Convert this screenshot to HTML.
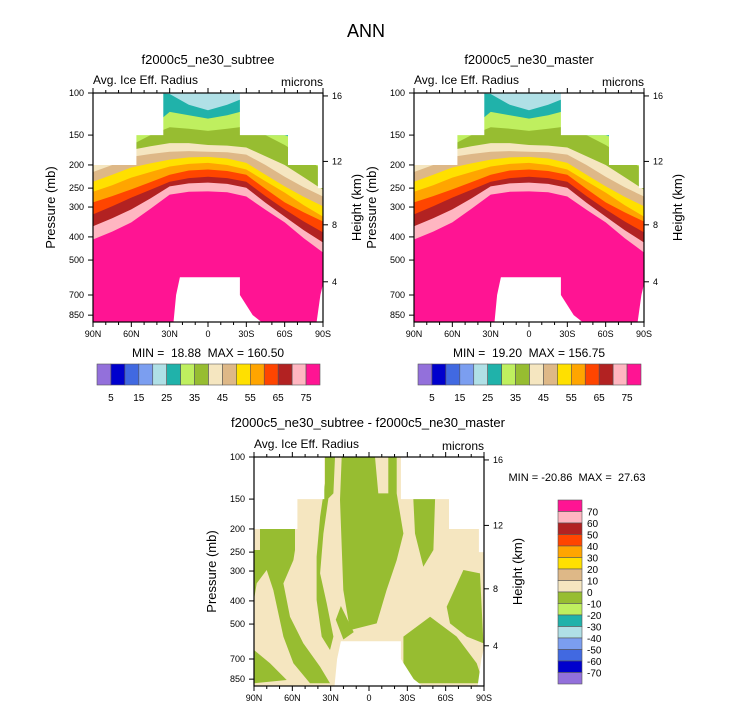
<!DOCTYPE html>
<html><head><meta charset="utf-8">
<style>
html,body{margin:0;padding:0;background:#fff;}
svg{display:block;font-family:"Liberation Sans",sans-serif;}
</style></head>
<body>
<svg id="c" width="733" height="711" viewBox="0 0 733 711" xmlns="http://www.w3.org/2000/svg">
<text x="366" y="37" font-size="18" text-anchor="middle">ANN</text>
</svg>
<script>
var lats=[90,75,60,45,30,15,0,-15,-30,-45,-60,-75,-90];
var levelNames=["lightblue","teal","lightgreen","olive","wheat","tan","gold","orange","orangered","firebrick","pink","deeppink"];
var levelColors=["#b0e0e6","#20b2aa","#bfef5f","#97bd31","#f5e6c0","#deb887","#ffe000","#ffa500","#ff4500","#b22222","#ffb6c1","#ff1493"];
var tealTop=[100,100,100,100,101,112,118,112,104,100,100,100,100];
var lgreenTop=[150,150,150,140,120,124,128,124,118,150,150,160,170];
var oliveTop=[200,190,165,150,139,141,144,141,138,150,165,185,210];
var wheatTop=[200,188,173,167,162,162,165,166,169,184,200,225,254];
var tanTop=[214,200,185,180,176,175,176,177,181,200,224,248,271];
var goldTop=[235,220,205,197,190,186,185,188,196,220,246,272,298];
var orangeTop=[259,243,226,214,203,198,196,200,209,234,261,295,329];
var oredTop=[287,270,253,236,220,211,209,212,220,252,287,316,345];
var fbrickTop=[322,298,274,254,235,227,224,227,235,270,307,345,383];
var pinkTop=[361,334,307,276,246,239,237,240,249,288,329,375,422];
var dpinkTop=[410,380,348,305,266,259,258,260,271,308,348,405,465];
var pTicks=[100,150,200,250,300,400,500,700,850];
var hTicks=[4,8,12,16];
var latTicks=[90,60,30,0,-30,-60,-90];
var latLabels=["90N","60N","30N","0","30S","60S","90S"];
var cbColors=["#9370db","#0000cd","#4169e1","#7b9ef0","#b0e0e6","#20b2aa","#bfef5f","#97bd31","#f5e6c0","#deb887","#ffe000","#ffa500","#ff4500","#b22222","#ffb6c1","#ff1493"];
var cbLabels=["5","15","25","35","45","55","65","75"];
var diffLabels=["70","60","50","40","30","20","10","0","-10","-20","-30","-40","-50","-60","-70"];
var diffBlobs=[
 [[85.3,199],[57.9,199],[57.9,245],[59.2,270],[67,338],[61.8,466],[51.4,601],[38.3,754],[30.5,884],[46.2,884],[59.2,730],[67,564],[74.9,360],[80.1,297],[87.9,338],[90,396],[90,245],[85.3,245]],
 [[90,642],[77.5,730],[64.4,857],[90,884]],
 [[34.4,100],[26.6,100],[27.9,142],[31.8,149],[35.7,209],[38.3,307],[33.1,409],[27.9,564],[30.5,642],[37,564],[41,396],[41,261],[38.3,178],[34.4,129]],
 [[21.4,100],[-4.7,100],[-7.3,142],[-15.1,142],[-15.1,100],[-21.7,100],[-21.7,142],[-26.9,209],[-21.7,270],[-13.8,360],[-6,497],[14.9,530],[20.1,360],[22.7,151]],
 [[-34.7,149],[-51.7,149],[-50.4,245],[-42.5,288],[-36,209]],
 [[-60.8,423],[-73.9,297],[-86.9,307],[-89.5,601],[-76.5,564],[-63.4,497]],
 [[-26.9,564],[-47.8,466],[-68.6,564],[-84.3,730],[-89.5,884],[-34.7,884],[-26.9,730]],
 [[22,420],[12,540],[20,580],[26,480]]
];
var NS="http://www.w3.org/2000/svg";
var svg=document.getElementById("c");
function mk(tag,attrs,parent){var e=document.createElementNS(NS,tag);for(var k in attrs)e.setAttribute(k,attrs[k]);(parent||svg).appendChild(e);return e;}
var W=230,H=229,PB=908;
function makeAxes(ox,oy){
 return {x:function(lat){return ox+(90-lat)/180*W;},y:function(p){return oy+H*Math.log10(p/100)/Math.log10(PB/100);}};
}
function hToP(z){var m=z*1000;if(m<=11000)return 1013.25*Math.pow(1-2.25577e-5*m,5.25588);return 226.32*Math.exp(-(m-11000)/6341.6);}
function txt(x,y,s,size,anchor,name,extra){var t=mk("text",{x:x,y:y,"font-size":size,"text-anchor":anchor||"start"});t.textContent=s;if(extra)for(var k in extra)t.setAttribute(k,extra[k]);return t;}
function bandPath(ax,arr){var d="";for(var i=0;i<lats.length;i++){d+=(i?"L":"M")+ax.x(lats[i]).toFixed(1)+","+ax.y(arr[i]).toFixed(1);}d+="L"+ax.x(-90)+","+ax.y(PB)+"L"+ax.x(90)+","+ax.y(PB)+"Z";return d;}
function polyPath(ax,pts){return pts.map(function(q,i){return (i?"L":"M")+ax.x(q[0]).toFixed(1)+","+ax.y(q[1]).toFixed(1);}).join("")+"Z";}
var clipN=0;
function masks(ax,g){
 var top1=[[90,100],[35,100],[35,150],[56,150],[56,200],[90,200]];
 var top2=[[-25,100],[-90,100],[-90,250],[-86,250],[-86,200],[-62.6,200],[-62.6,150],[-25,150]];
 var bot=[[22,590],[-25,590],[-25,700],[-35,850],[-42,910],[27,910],[25,700]];
 var corner=[[-90,630],[-88,700],[-85,910],[-90,910]];
 [top1,top2,bot,corner].forEach(function(m,i){var p=mk("path",{d:polyPath(ax,m),fill:"#fff"},g);});
}
function frame(ax,ox,oy,name){
 mk("rect",{x:ox,y:oy,width:W,height:H,fill:"none",stroke:"#000","stroke-width":1.2});
 pTicks.forEach(function(p){var y=ax.y(p);mk("line",{x1:ox-5,y1:y,x2:ox,y2:y,stroke:"#000"});txt(ox-9,y+3,String(p),9,"end",name+"-pressure-tick-"+p);});
 for(var l=90;l>=-90;l-=10){var x=ax.x(l);var major=(l%30===0);var len=major?5:3;mk("line",{x1:x,y1:oy+H,x2:x,y2:oy+H+len,stroke:"#000"});mk("line",{x1:x,y1:oy,x2:x,y2:oy-len,stroke:"#000"});}
 latTicks.forEach(function(l,i){txt(ax.x(l),oy+H+15,latLabels[i],9,"middle",name+"-lat-tick-"+latLabels[i]);});
 hTicks.forEach(function(h){var y=ax.y(hToP(h));mk("line",{x1:ox+W,y1:y,x2:ox+W+5,y2:y,stroke:"#000"});txt(ox+W+9,y+3,String(h),9,"start",name+"-height-tick-"+h);});
 var py=oy+H/2;
 txt(ox-38,py,"Pressure (mb)",13,"middle",name+"-y-axis-title",{transform:"rotate(-90 "+(ox-38)+" "+py+")"});
 txt(ox+W+38,py,"Height (km)",13,"middle",name+"-right-axis-title",{transform:"rotate(-90 "+(ox+W+38)+" "+py+")"});
 txt(ox,oy-9,"Avg. Ice Eff. Radius",12,"start",name+"-variable-label");
 txt(ox+W,oy-7,"microns",12,"end",name+"-units-label");
}
function fieldPanel(ox,oy,name,title,minmax,cbx){
 var ax=makeAxes(ox,oy);
 clipN++;var cp=mk("clipPath",{id:"cp"+clipN});mk("rect",{x:ox,y:oy,width:W,height:H},cp);
 var g=mk("g",{"clip-path":"url(#cp"+clipN+")"});
 mk("rect",{x:ox,y:oy,width:W,height:H,fill:levelColors[0]},g);
 var tops=[tealTop,lgreenTop,oliveTop,wheatTop,tanTop,goldTop,orangeTop,oredTop,fbrickTop,pinkTop,dpinkTop];
 tops.forEach(function(arr,i){var p=mk("path",{d:bandPath(ax,arr),fill:levelColors[i+1]},g);});
 masks(ax,g);
 frame(ax,ox,oy,name);
 txt(ox+W/2,oy-29,title,13,"middle",name+"-title");
 txt(ox+W/2,oy+H+35,minmax,12,"middle",name+"-min-max");
 var bw=223/16;
 cbColors.forEach(function(c,i){var b=mk("rect",{x:cbx+i*bw,y:364,width:bw,height:21,fill:c,stroke:"#555","stroke-width":0.6});});
 cbLabels.forEach(function(s,i){txt(cbx+(1+2*i)*bw,401,s,10,"middle",name+"-colorbar-label-"+s);});
}
fieldPanel(93,93,"panel-subtree","f2000c5_ne30_subtree","MIN =\u00a0 18.88\u00a0 MAX = 160.50",97);
fieldPanel(414,93,"panel-master","f2000c5_ne30_master","MIN =\u00a0 19.20\u00a0 MAX = 156.75",418);
(function(){
 var ox=254,oy=457,name="panel-diff";var ax=makeAxes(ox,oy);
 clipN++;var cp=mk("clipPath",{id:"cp"+clipN});mk("rect",{x:ox,y:oy,width:W,height:H},cp);
 var g=mk("g",{"clip-path":"url(#cp"+clipN+")"});
 mk("rect",{x:ox,y:oy,width:W,height:H,fill:"#f5e6c0"},g);
 diffBlobs.forEach(function(b){var p=mk("path",{d:polyPath(ax,b),fill:"#97bd31"},g);});
 masks(ax,g);
 frame(ax,ox,oy,name);
 txt(368,427,"f2000c5_ne30_subtree - f2000c5_ne30_master",13,"middle","diff-title");
 txt(577,481,"MIN = -20.86\u00a0 MAX =\u00a0 27.63",11,"middle","diff-min-max");
 var bh=184/16;var rev=cbColors.slice().reverse();
 rev.forEach(function(c,i){var b=mk("rect",{x:558,y:500+i*bh,width:24,height:bh,fill:c,stroke:"#555","stroke-width":0.6});});
 diffLabels.forEach(function(s,i){txt(587,500+(i+1)*bh+4,s,10,"start","diff-colorbar-label");});
})();
</script>
</body></html>
